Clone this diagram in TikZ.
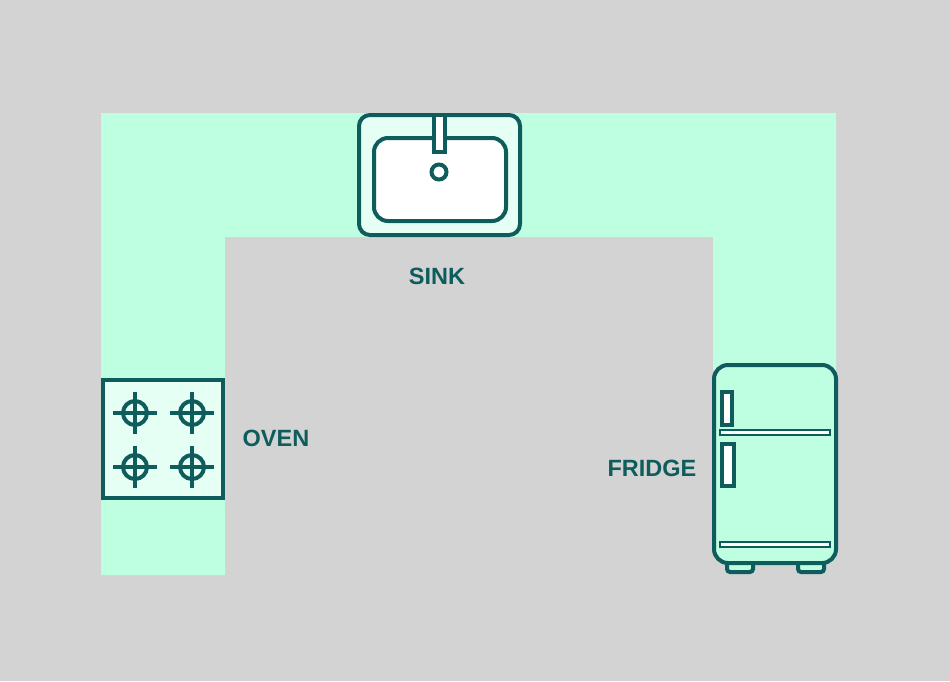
\documentclass[tikz,border=0pt]{standalone}
\usepackage{fontspec}
\setmainfont{Liberation Sans}
\usetikzlibrary{positioning}
\definecolor{floorgray}{HTML}{D3D3D3}
\definecolor{mint}{HTML}{BFFFE1}
\definecolor{pale}{HTML}{E6FFF4}
\definecolor{darkteal}{HTML}{0F5C5C}
\tikzset{
  counter/.style={fill=mint},
  outline/.style={draw=darkteal,line width=4pt},
  thinline/.style={draw=darkteal,line width=2.5pt},
  tag/.style={text=darkteal,font=\bfseries\fontsize{23.5}{27}\selectfont}
}

\begin{document}
\begin{tikzpicture}[x=1pt,y=-1pt]
    \fill[floorgray] (0,0) rectangle (950,681);
    \useasboundingbox (0,0) rectangle (950,681);

    % worktop
    \fill[counter] (101,113) -- (836,113) -- (836,370) -- (713,370)
      -- (713,237) -- (225,237) -- (225,575) -- (101,575) -- cycle;

    % sink
    \draw[outline,fill=pale,rounded corners=11pt] (359,115) rectangle (520,235);
    \draw[outline,fill=white,rounded corners=14pt] (374,138) rectangle (506,221);
    \draw[outline,fill=white] (434,115) rectangle (445,152);
    \draw[outline,fill=white] (439,172) circle (7.5);
    \node[tag] (sink) at (437,276) {SINK};

    % oven
    \draw[outline,fill=pale] (103,380) rectangle (223,498);
    \foreach \x in {135,192}
      \foreach \y in {413,467} {
        \draw[outline] (\x,\y) circle (12);
        \draw[outline] (\x-22,\y) -- (\x+22,\y);
        \draw[outline] (\x,\y-21) -- (\x,\y+21);
      }
    \node[tag] (oven) at (276,438) {OVEN};

    % fridge
    \foreach \x in {727,798}
      \draw[outline,fill=mint,rounded corners=3pt] (\x,555) rectangle (\x+26,572);
    \draw[outline,fill=mint,rounded corners=14pt] (714,365) rectangle (836,563);
    \draw[outline,fill=white] (722,392) rectangle (732,425);
    \draw[outline,fill=white] (722,444) rectangle (734,486);
    \draw[thinline,fill=white] (720,430) rectangle (830,435);
    \draw[thinline,fill=white] (720,542) rectangle (830,547);
    \node[tag] (fridge) at (652,468) {FRIDGE};
\end{tikzpicture}
\end{document}
